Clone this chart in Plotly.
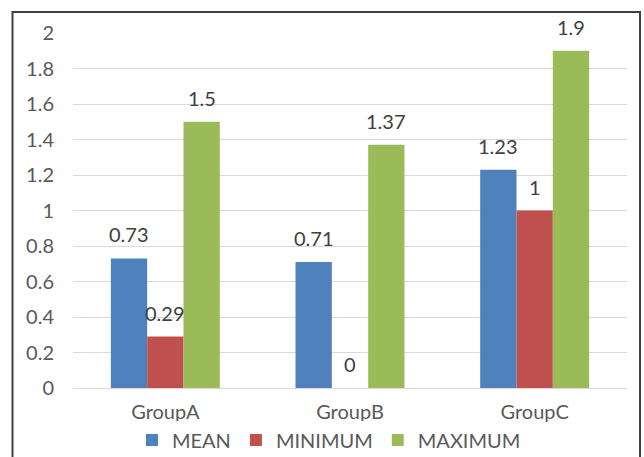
import plotly.graph_objects as go

categories = ["GroupA", "GroupB", "GroupC"]
series_names = ["MEAN", "MINIMUM", "MAXIMUM"]
mean_vals = [0.73, 0.71, 1.23]
min_vals = [0.29, 0, 1]
max_vals = [1.5, 1.37, 1.9]
colors = ["#4F81BD", "#C0504D", "#9BBB59"]
y_ticks = [0, 0.2, 0.4, 0.6, 0.8, 1, 1.2, 1.4, 1.6, 1.8, 2]
y_ticktext = ["0", "0.2", "0.4", "0.6", "0.8", "1", "1.2", "1.4", "1.6", "1.8", "2"]

FONT = "Lato"
FS = 20
TXT = "#595959"
bargap = 0.41
n = 3
w = (1 - bargap) / n

fig = go.Figure()
all_vals = [mean_vals, min_vals, max_vals]
annotations = []
for i, (name, vals, c) in enumerate(zip(series_names, all_vals, colors)):
    fig.add_trace(go.Bar(name=name, x=list(range(len(categories))), y=vals,
                         marker=dict(color=c, line=dict(width=0))))
    off = -(1 - bargap) / 2 + (i + 0.5) * w
    for j, v in enumerate(vals):
        annotations.append(dict(x=j + off, y=v, xref="x", yref="y",
                                text=f"{v:g}", showarrow=False,
                                yanchor="bottom", yshift=10,
                                font=dict(family=FONT, size=FS, color="#404040")))

L, R, T, B = 73, 17, 33, 69
W, H = 644, 457
pw, ph = W - L - R, H - T - B
frame = dict(type="rect", xref="paper", yref="paper",
             x0=(12.5 - L) / pw, x1=(640 - L) / pw,
             y0=-0.5, y1=(H - B - 12) / ph,
             line=dict(color="#404040", width=2), layer="above")

fig.update_layout(
    width=W, height=H,
    margin=dict(l=L, r=R, t=T, b=B, autoexpand=False),
    paper_bgcolor="white", plot_bgcolor="white",
    barmode="group", bargap=bargap, bargroupgap=0,
    font=dict(family=FONT, size=FS, color=TXT),
    xaxis=dict(tickmode="array", tickvals=list(range(len(categories))), ticktext=categories,
               range=[-0.5, 2.5], showgrid=False, showline=True, linecolor="#d9d9d9",
               linewidth=1, ticks="", ticklabelstandoff=6,
               tickfont=dict(family=FONT, size=FS, color=TXT)),
    yaxis=dict(range=[0, 2], tickmode="array", tickvals=y_ticks, ticktext=y_ticktext,
               showgrid=True, gridcolor="#d9d9d9", gridwidth=1, zeroline=False,
               showline=False, ticks="", ticklabelstandoff=18,
               tickfont=dict(family=FONT, size=FS, color=TXT)),
    legend=dict(orientation="h", x=0.462, xanchor="center", y=(-52) / ph, yanchor="middle",
                font=dict(family=FONT, size=FS, color=TXT), traceorder="normal",
                itemwidth=30),
    annotations=annotations,
    shapes=[frame],
)

fig.write_html("out.html")
